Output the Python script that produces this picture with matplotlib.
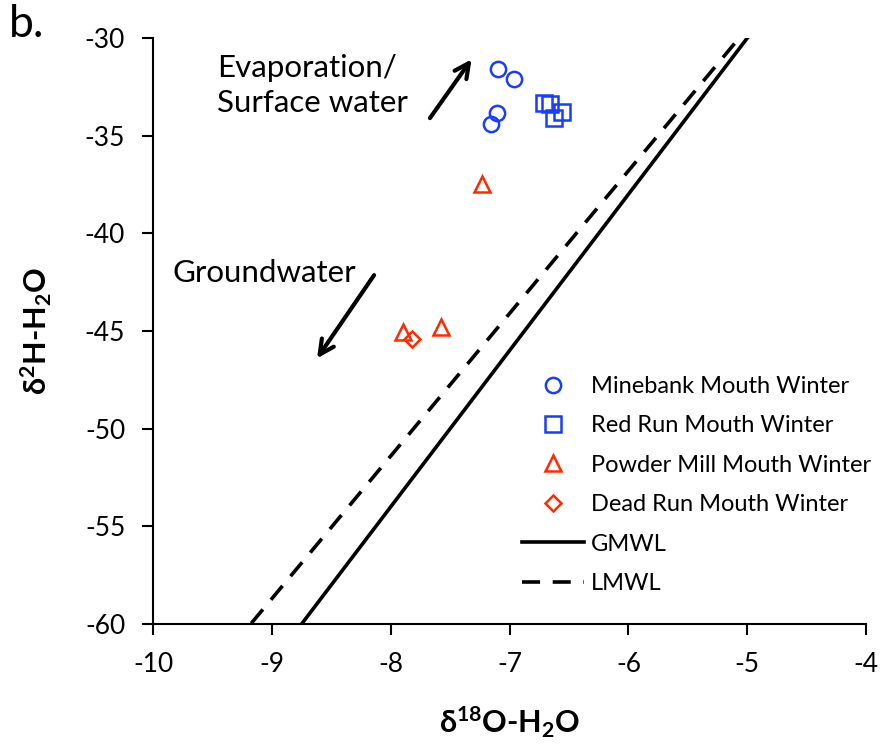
import matplotlib
matplotlib.use('Agg')
import matplotlib.pyplot as plt
import numpy as np

# sample data (d18O, d2H)
minebank_x = [-7.10, -6.96, -7.11, -7.16]
minebank_y = [-31.60, -32.11, -33.86, -34.42]
redrun_x = [-6.71, -6.66, -6.56, -6.63]
redrun_y = [-33.34, -33.40, -33.77, -34.11]
powder_x = [-7.23, -7.90, -7.58]
powder_y = [-37.48, -45.07, -44.81]
dead_x = [-7.82]
dead_y = [-45.41]

# meteoric water lines: slope, intercept
gmwl = (8.0, 10.0)
lmwl = (7.3, 7.0)

plt.rcParams['font.family'] = ['Lato', 'DejaVu Sans']
plt.rcParams['mathtext.fontset'] = 'custom'
plt.rcParams['mathtext.rm'] = 'Lato'
plt.rcParams['mathtext.bf'] = 'Lato:bold'
plt.rcParams['axes.unicode_minus'] = False

fig = plt.figure(figsize=(8.82, 7.56), dpi=100)
ax = fig.add_axes([0.1735, 0.1746, 0.8085, 0.7751])

blue = '#1a3cff'
red = '#ff2a00'
ms = 11
ax.plot(minebank_x, minebank_y, 'o', ms=ms, mfc='none', mec=blue, mew=1.8, label='Minebank Mouth Winter')
ax.plot(redrun_x, redrun_y, 's', ms=ms, mfc='none', mec=blue, mew=1.8, label='Red Run Mouth Winter')
ax.plot(powder_x, powder_y, '^', ms=ms, mfc='none', mec=red, mew=1.8, label='Powder Mill Mouth Winter')
ax.plot(dead_x, dead_y, 'D', ms=8.5, mfc='none', mec=red, mew=1.8, label='Dead Run Mouth Winter')

xx = np.array([-10.0, -4.0])
ax.plot(xx, gmwl[0] * xx + gmwl[1], '-', color='black', lw=2.6, label='GMWL')
ax.plot(xx, lmwl[0] * xx + lmwl[1], '--', color='black', lw=2.6, dashes=(5, 3.5), label='LMWL')

ax.set_xlim(-10, -4)
ax.set_ylim(-60, -30)
ax.set_xticks(np.arange(-10, -3, 1))
ax.set_yticks(np.arange(-60, -29, 5))
for s in ['top', 'right']:
    ax.spines[s].set_visible(False)
for s in ['left', 'bottom']:
    ax.spines[s].set_linewidth(1.5)
ax.tick_params(direction='out', length=8, width=1.5, labelsize=19, pad=12)

ax.set_xlabel(r'$\mathbf{\delta^{18}O}$-H$_\mathbf{2}$O', fontsize=22, fontweight='bold', labelpad=20)
ax.set_ylabel(r'$\mathbf{\delta^{2}H}$-H$_\mathbf{2}$O', fontsize=22, fontweight='bold', labelpad=22)

arrow = dict(arrowstyle='->', color='black', lw=3, mutation_scale=26, shrinkA=0, shrinkB=0)
ax.annotate('', xy=(-7.32, -31.09), xytext=(-7.67, -34.10), arrowprops=arrow)
ax.annotate('', xy=(-8.62, -46.40), xytext=(-8.14, -42.14), arrowprops=arrow)
ax.text(-9.46, -30.8, 'Evaporation/\nSurface water', fontsize=22.5, va='top', ha='left', linespacing=1.3)
ax.text(-9.84, -42.05, 'Groundwater', fontsize=22.5, va='center', ha='left')

fig.text(0.01, 0.995, 'b.', fontsize=32, va='top', ha='left')

ax.legend(loc='lower right', frameon=False, fontsize=17, handlelength=2.6, handletextpad=0.3,
          numpoints=1, labelspacing=0.78, bbox_to_anchor=(1.03, 0.023), borderaxespad=0.3)

fig.savefig('out.png', dpi=100)
